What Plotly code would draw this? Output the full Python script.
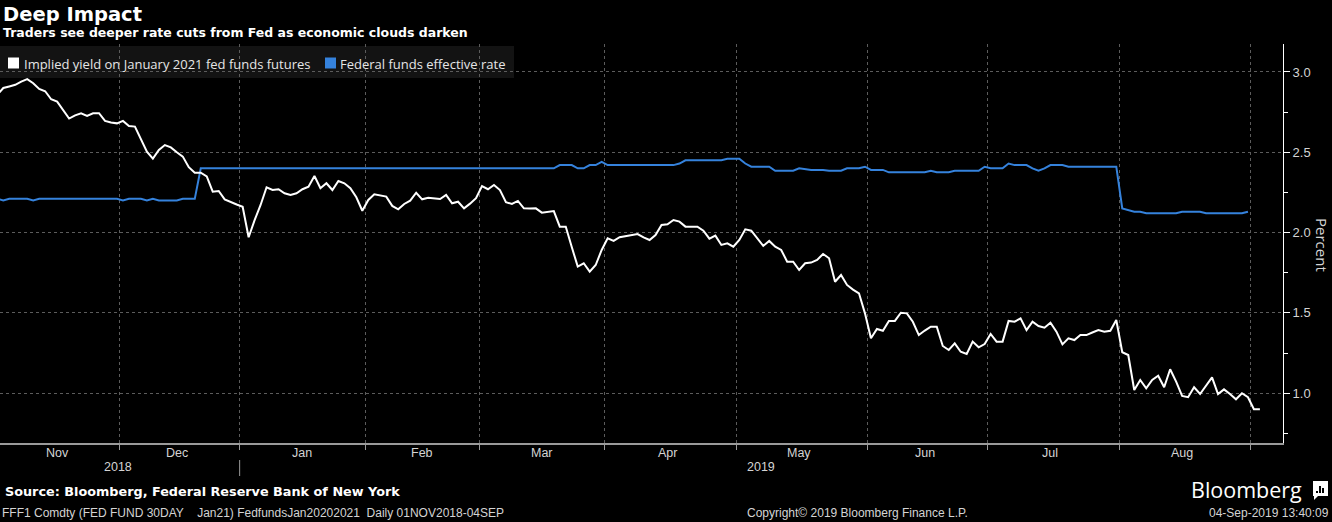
import plotly.graph_objects as go
import pandas as pd

# ---------------- data ----------------
holidays = ["2018-11-22", "2018-12-25", "2019-01-01", "2019-01-21", "2019-02-18",
            "2019-05-27", "2019-07-04", "2019-09-02"]
trading_days = pd.bdate_range("2018-11-01", "2019-09-04", freq="C", holidays=holidays)

implied_yield = [
    2.857, 2.90, 2.91, 2.92, 2.94, 2.955, 2.93, 2.894, 2.88, 2.83, 2.815, 2.76, 2.71, 2.73, 2.743,
    2.726, 2.743, 2.743, 2.695, 2.685, 2.68,
    2.695, 2.664, 2.66, 2.58, 2.504, 2.46, 2.514, 2.545, 2.53, 2.50, 2.473, 2.407, 2.373, 2.373,
    2.35, 2.255, 2.259, 2.207, 2.189, 2.175,
    2.161, 1.971, 2.078, 2.172, 2.282, 2.265, 2.27, 2.245, 2.234, 2.245, 2.27, 2.286, 2.352, 2.276,
    2.307, 2.265, 2.321, 2.307, 2.276, 2.22, 2.136,
    2.203, 2.238, 2.23, 2.224, 2.166, 2.145, 2.178, 2.199, 2.248, 2.207, 2.217, 2.215, 2.209, 2.234,
    2.182, 2.192, 2.151, 2.18, 2.214,
    2.29, 2.27, 2.296, 2.265, 2.189, 2.178, 2.197, 2.151, 2.15, 2.151, 2.124, 2.13, 2.134, 2.037,
    2.037, 1.91, 1.788, 1.809, 1.757, 1.798, 1.892,
    1.964, 1.948, 1.971, 1.979, 1.985, 1.991, 1.97, 1.954, 1.985, 2.047, 2.052, 2.078, 2.068, 2.037,
    2.037, 2.037, 2.012, 1.962, 1.981, 1.923, 1.933, 1.912,
    1.954, 2.02, 2.012, 1.964, 1.917, 1.948, 1.912, 1.892, 1.819, 1.819, 1.767, 1.809, 1.813, 1.83,
    1.867, 1.84, 1.694, 1.736, 1.674, 1.645, 1.622, 1.497,
    1.342, 1.40, 1.389, 1.45, 1.45, 1.501, 1.497, 1.445, 1.362, 1.39, 1.414, 1.414, 1.294, 1.269,
    1.31, 1.258, 1.244, 1.321, 1.286, 1.306,
    1.369, 1.321, 1.321, 1.45, 1.445, 1.466, 1.393, 1.445, 1.418, 1.408, 1.439, 1.383, 1.304, 1.342,
    1.331, 1.362, 1.362, 1.378, 1.393, 1.383, 1.389, 1.456,
    1.255, 1.238, 1.02, 1.082, 1.03, 1.082, 1.109, 1.037, 1.149, 1.072, 0.983, 0.975, 1.037, 0.995,
    1.05, 1.099, 0.995, 1.024, 0.995, 0.962, 1.0, 0.975,
    0.90, 0.90,
]

fed_funds = [
    2.21, 2.20, 2.21, 2.21, 2.21, 2.21, 2.20, 2.21, 2.21, 2.21, 2.21, 2.21, 2.21, 2.21, 2.21,
    2.21, 2.21, 2.21, 2.21, 2.21, 2.21,
    2.20, 2.21, 2.21, 2.21, 2.20, 2.21, 2.20, 2.20, 2.20, 2.20, 2.21, 2.21, 2.21, 2.40,
    2.40, 2.40, 2.40, 2.40, 2.40, 2.40,
    2.40, 2.40, 2.40, 2.40, 2.40, 2.40, 2.40, 2.40, 2.40, 2.40, 2.40, 2.40, 2.40, 2.40,
    2.40, 2.40, 2.40, 2.40, 2.40, 2.40, 2.40,
    2.40, 2.40, 2.40, 2.40, 2.40, 2.40, 2.40, 2.40, 2.40, 2.40, 2.40, 2.40, 2.40, 2.40,
    2.40, 2.40, 2.40, 2.40, 2.40,
    2.40, 2.40, 2.40, 2.40, 2.40, 2.40, 2.40, 2.40, 2.40, 2.40, 2.40, 2.40, 2.40, 2.42,
    2.42, 2.42, 2.40, 2.40, 2.42, 2.42, 2.44,
    2.42, 2.42, 2.42, 2.42, 2.42, 2.42, 2.42, 2.42, 2.42, 2.42, 2.42, 2.42, 2.43, 2.45,
    2.45, 2.45, 2.45, 2.45, 2.45, 2.45, 2.46, 2.46,
    2.46, 2.43, 2.41, 2.41, 2.41, 2.41, 2.385, 2.385, 2.385, 2.385, 2.40, 2.395, 2.39, 2.39,
    2.39, 2.385, 2.385, 2.385, 2.40, 2.40, 2.40, 2.41,
    2.39, 2.39, 2.39, 2.375, 2.375, 2.375, 2.375, 2.375, 2.375, 2.375, 2.385, 2.375, 2.375, 2.375,
    2.385, 2.385, 2.385, 2.385, 2.385, 2.41,
    2.40, 2.40, 2.40, 2.43, 2.42, 2.42, 2.42, 2.40, 2.385, 2.40, 2.42, 2.42, 2.42, 2.41,
    2.41, 2.41, 2.41, 2.41, 2.41, 2.41, 2.41, 2.41,
    2.15, 2.14, 2.13, 2.13, 2.12, 2.12, 2.12, 2.12, 2.12, 2.12, 2.13, 2.13, 2.13, 2.13,
    2.12, 2.12, 2.12, 2.12, 2.12, 2.12, 2.12, 2.13,
]

month_names = ["Nov", "Dec", "Jan", "Feb", "Mar", "Apr", "May", "Jun", "Jul", "Aug"]
year_labels = ["2018", "2019"]
y_ticks = [1.0, 1.5, 2.0, 2.5, 3.0]

series_names = ["Implied yield on January 2021 fed funds futures", "Federal funds effective rate"]

# ---------------- styling / geometry ----------------
W, H = 1332, 522
PL, PR, PT, PB = 0, 1283, 44, 443
WHITE = "#ffffff"
BLUE = "#3582dc"
GRID = "#5c5c5c"
TXT = "#d4d4d4"
NARROW = "Liberation Sans Narrow, Arial Narrow, Liberation Sans, sans-serif"
BOLD = "DejaVu Sans, Verdana, sans-serif"
LEG = "Open Sans, sans-serif"


def px(x):
    return (x - PL) / (PR - PL)


def py(y):
    return (PB - y) / (PB - PT)


assert len(trading_days) == len(implied_yield)
blue_days = trading_days[:len(fed_funds)]

# month boundaries (half-way between last day of previous month and first of new)
month_starts = pd.date_range("2018-12-01", "2019-09-01", freq="MS")
boundaries = [trading_days[trading_days < m][-1] + pd.Timedelta(hours=12) for m in month_starts]
# month label at the middle trading day of each month
month_periods = pd.period_range("2018-11", "2019-08", freq="M")
mid_days = []
for p in month_periods:
    d = trading_days[(trading_days.year == p.year) & (trading_days.month == p.month)]
    mid_days.append(d[(len(d) - 1) // 2])

fig = go.Figure()
fig.add_trace(go.Scatter(x=blue_days, y=fed_funds, mode="lines", name=series_names[1],
                         line=dict(color=BLUE, width=2), showlegend=False, hoverinfo="skip"))
fig.add_trace(go.Scatter(x=trading_days, y=implied_yield, mode="lines", name=series_names[0],
                         line=dict(color=WHITE, width=2), showlegend=False, hoverinfo="skip"))

shapes = []
annotations = []

# legend box
shapes.append(dict(type="rect", xref="paper", yref="paper", x0=px(0), x1=px(514), y0=py(78), y1=py(46),
                   fillcolor="#131313", line=dict(width=0), layer="below"))
shapes.append(dict(type="rect", xref="paper", yref="paper", x0=px(8), x1=px(19), y0=py(68.5), y1=py(57.5),
                   fillcolor=WHITE, line=dict(width=0)))
shapes.append(dict(type="rect", xref="paper", yref="paper", x0=px(325), x1=px(336), y0=py(68.5), y1=py(57.5),
                   fillcolor=BLUE, line=dict(width=0)))
annotations.append(dict(text=series_names[0], xref="paper", yref="paper", x=px(22), y=py(63.5),
                        xanchor="left", yanchor="middle", showarrow=False,
                        font=dict(family=LEG, size=13, color="#e6e6e6")))
annotations.append(dict(text=series_names[1], xref="paper", yref="paper", x=px(338), y=py(63.5),
                        xanchor="left", yanchor="middle", showarrow=False,
                        font=dict(family=LEG, size=13, color="#e6e6e6")))

# titles
annotations.append(dict(text="<b>Deep Impact</b>", xref="paper", yref="paper", x=px(1), y=py(14.5),
                        xanchor="left", yanchor="middle", showarrow=False,
                        font=dict(family=BOLD, size=19.5, color=WHITE)))
annotations.append(dict(text="<b>Traders see deeper rate cuts from Fed as economic clouds darken</b>",
                        xref="paper", yref="paper", x=px(1), y=py(32.5),
                        xanchor="left", yanchor="middle", showarrow=False,
                        font=dict(family=BOLD, size=12.5, color=WHITE)))

# month labels
for name, d in zip(month_names, mid_days):
    annotations.append(dict(text=name, xref="x", yref="paper", x=d, y=py(453),
                            xanchor="center", yanchor="middle", showarrow=False,
                            font=dict(family=NARROW, size=12.5, color=TXT)))
# year labels
annotations.append(dict(text=year_labels[0], xref="paper", yref="paper", x=px(118), y=py(467),
                        xanchor="center", yanchor="middle", showarrow=False,
                        font=dict(family=NARROW, size=12.5, color=TXT)))
annotations.append(dict(text=year_labels[1], xref="paper", yref="paper", x=px(761), y=py(467),
                        xanchor="center", yanchor="middle", showarrow=False,
                        font=dict(family=NARROW, size=12.5, color=TXT)))
shapes.append(dict(type="line", xref="x", yref="paper", x0=boundaries[1], x1=boundaries[1],
                   y0=py(460), y1=py(476), line=dict(color="#9a9a9a", width=1)))

# right axis title
annotations.append(dict(text="Percent", xref="paper", yref="paper", x=px(1322), y=py(245),
                        xanchor="center", yanchor="middle", showarrow=False, textangle=90,
                        font=dict(family=LEG, size=15, color=TXT)))

# footer
annotations.append(dict(text="<b>Source: Bloomberg, Federal Reserve Bank of New York</b>",
                        xref="paper", yref="paper", x=px(3), y=py(491),
                        xanchor="left", yanchor="middle", showarrow=False,
                        font=dict(family=BOLD, size=12.8, color=WHITE)))
annotations.append(dict(text="FFF1 Comdty (FED FUND 30DAY\u00a0\u00a0\u00a0\u00a0Jan21) FedfundsJan20202021\u00a0\u00a0Daily 01NOV2018-04SEP",
                        xref="paper", yref="paper", x=px(0), y=py(512.5),
                        xanchor="left", yanchor="middle", showarrow=False,
                        font=dict(family=NARROW, size=12, color=TXT)))
annotations.append(dict(text="Copyright\u00a9 2019 Bloomberg Finance L.P.",
                        xref="paper", yref="paper", x=px(857), y=py(512.5),
                        xanchor="center", yanchor="middle", showarrow=False,
                        font=dict(family=NARROW, size=12, color=TXT)))
annotations.append(dict(text="04-Sep-2019 13:40:09",
                        xref="paper", yref="paper", x=px(1331), y=py(512.5),
                        xanchor="right", yanchor="middle", showarrow=False,
                        font=dict(family=NARROW, size=12, color=TXT)))
annotations.append(dict(text="Bloomberg",
                        xref="paper", yref="paper", x=px(1304), y=py(489),
                        xanchor="right", yanchor="middle", showarrow=False,
                        font=dict(family="Open Sans, sans-serif", size=21.5, color=WHITE)))
# logo icon
shapes.append(dict(type="rect", xref="paper", yref="paper", x0=px(1313), x1=px(1328), y0=py(496), y1=py(481),
                   fillcolor=WHITE, line=dict(width=0)))
shapes.append(dict(type="path", xref="paper", yref="paper",
                   path=f"M {px(1314)} {py(495)} L {px(1314)} {py(500)} L {px(1319)} {py(495)} Z",
                   fillcolor=WHITE, line=dict(width=0)))
for bx0, by in [(1316, 491), (1319, 486), (1322, 488)]:
    shapes.append(dict(type="rect", xref="paper", yref="paper", x0=px(bx0), x1=px(bx0 + 2),
                       y0=py(493), y1=py(by), fillcolor="#000000", line=dict(width=0)))

fig.update_layout(
    width=W, height=H,
    paper_bgcolor="#000000", plot_bgcolor="#000000",
    margin=dict(l=PL, r=W - PR, t=PT, b=H - PB),
    showlegend=False,
    shapes=shapes, annotations=annotations,
    hovermode=False,
)
fig.update_xaxes(
    type="date",
    range=["2018-11-01 10:48", "2019-09-09 20:38"],
    rangebreaks=[dict(bounds=["sat", "mon"]), dict(values=holidays)],
    tickmode="array", tickvals=boundaries, ticktext=[""] * len(boundaries),
    showticklabels=False,
    ticks="outside", ticklen=5, tickcolor="#9a9a9a", tickwidth=1,
    showgrid=True, gridcolor=GRID, griddash="dot", gridwidth=1,
    showline=True, linecolor="#9a9a9a", linewidth=2,
    zeroline=False, fixedrange=True,
)
fig.update_yaxes(
    side="right", range=[0.69, 3.174],
    tickmode="array", tickvals=y_ticks, ticktext=[f"{v:.1f}" for v in y_ticks],
    ticks="outside", ticklen=6, tickcolor=WHITE, tickwidth=1,
    minor=dict(tickmode="array", tickvals=[0.75, 1.25, 1.75, 2.25, 2.75], ticks="outside",
               ticklen=4, tickcolor=WHITE, showgrid=False),
    tickfont=dict(family=NARROW, size=13, color=TXT),
    showgrid=True, gridcolor=GRID, griddash="dot", gridwidth=1,
    showline=True, linecolor=WHITE, linewidth=1, mirror=False,
    zeroline=False, fixedrange=True,
)

fig.write_html(
    "out.html",
    config=dict(displayModeBar=False),
    post_script="document.body.style.margin='0';document.body.style.overflow='hidden';",
)
